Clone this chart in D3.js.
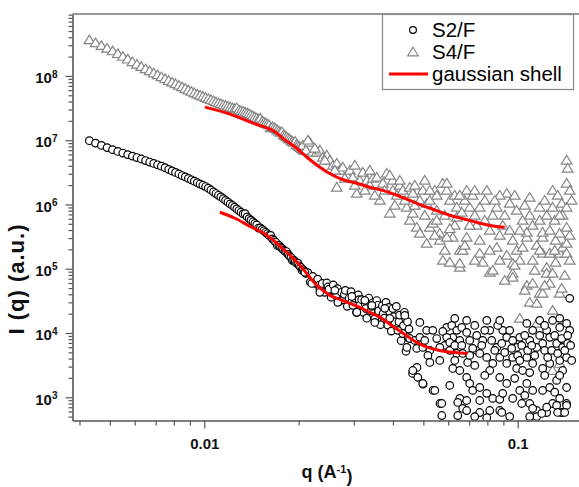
<!DOCTYPE html>
<html><head><meta charset="utf-8">
<script src="https://cdn.jsdelivr.net/npm/d3@7"></script>
<style>body{margin:0;background:#fff}svg{display:block}</style>
</head><body><svg id="chart" width="579" height="487"></svg>
<script>
// ---------- DATA ----------
// q grid of the smooth low-q part (shared by both samples)
const chainQ = [0.0043,0.0045,0.0047,0.0049,0.0051,0.0053,0.0055,0.0057,0.0059,0.0061,0.0063,0.0065,0.0067,0.0069,0.0071,0.0073,0.0075,0.0077,0.0079,0.0081,0.0083,0.0085,0.0087,0.0089,0.0091,0.0093,0.0095,0.0097,0.0099,
0.0101,0.0103,0.0105,0.0107,0.0109,0.0111,0.0113,0.0115,0.0117,0.0119,0.0121,0.0123,0.0125,0.0127,0.0129,0.0131,0.0133,0.0135,0.0137,0.0139,0.0141,0.0143,0.0145,0.0147,0.0149,0.0151,0.0153,0.0155,0.0157,0.0159,0.0161,0.0163,0.0165,0.0167,0.0169,0.0171,0.0173,0.0175,0.0177,0.0179,0.0181,0.0183,0.0185,0.0187,0.0189,0.0191,0.0193,0.0195,0.0197,0.0199,0.0201,0.0203,0.0205,0.0207,0.0209];
const s2ChainI = [9.82e6,9.02e6,8.30e6,7.67e6,7.13e6,6.68e6,6.31e6,5.97e6,5.66e6,5.37e6,5.10e6,4.82e6,4.57e6,4.35e6,4.14e6,3.94e6,3.73e6,3.52e6,3.33e6,3.15e6,2.98e6,2.82e6,2.69e6,2.55e6,2.42e6,2.30e6,2.19e6,2.08e6,1.99e6,
1.90e6,1.79e6,1.68e6,1.57e6,1.48e6,1.39e6,1.31e6,1.23e6,1.16e6,1.09e6,1.02e6,9.64e5,9.06e5,8.53e5,8.04e5,7.57e5,7.14e5,7.2e5,6.40e5,6.03e5,5.69e5,5.38e5,5.08e5,4.81e5,4.3e5,4.32e5,4.09e5,3.89e5,3.69e5,3.50e5,3.29e5,3.3e5,2.92e5,2.75e5,2.59e5,2.3e5,2.32e5,2.19e5,2.07e5,1.96e5,1.86e5,1.85e5,1.67e5,1.58e5,1.50e5,1.35e5,1.36e5,1.29e5,1.22e5,1.22e5,1.11e5,1.06e5,9.5e4,9.64e4,9.20e4];
const s4ChainI = [3.64e8,3.27e8,2.96e8,2.69e8,2.45e8,2.22e8,2.01e8,1.82e8,1.66e8,1.52e8,1.40e8,1.29e8,1.20e8,1.11e8,1.04e8,9.68e7,9.06e7,8.49e7,8.00e7,7.55e7,7.13e7,6.75e7,6.38e7,6.04e7,5.74e7,5.46e7,5.21e7,5.00e7,4.80e7,
4.61e7,4.44e7,4.27e7,4.10e7,3.95e7,3.81e7,3.68e7,3.56e7,3.46e7,3.37e7,3.27e7,3.18e7,3.10e7,3.2e7,2.94e7,2.87e7,2.79e7,2.73e7,2.66e7,2.58e7,2.48e7,2.38e7,2.30e7,2.21e7,2.13e7,2.2e7,1.98e7,1.91e7,1.85e7,1.79e7,1.73e7,1.55e7,1.62e7,1.56e7,1.51e7,1.44e7,1.38e7,1.33e7,1.35e7,1.22e7,1.17e7,1.13e7,1.08e7,1.04e7,1.00e7,9.62e6,9.25e6,9.6e6,8.58e6,8.28e6,7.98e6,7.69e6,7.43e6,7.16e6,6.92e6];

// scattered high-q part, [q, I]
const s2Scatter = [
[0.0211,8.5e4],[0.0214,8.7e4],[0.0218,6.2e4],[0.0222,7.6e4],[0.0226,5.9e4],[0.0230,6.9e4],[0.0232,5.5e4],[0.0234,4.8e4],[0.0238,5.9e4],[0.0242,4.3e4],[0.0246,6.0e4],[0.0248,5.2e4],[0.0250,4.8e4],[0.0254,3.6e4],[0.0258,5.6e4],[0.0262,4.1e4],[0.0264,3.8e4],[0.0266,4.9e4],[0.0270,3.1e4],[0.0274,4.3e4],[0.0278,3.3e4],[0.0280,4.0e4],[0.0282,4.6e4],[0.0286,2.6e4],[0.0290,3.5e4],[0.0294,4.4e4],[0.0296,3.1e4],[0.0298,2.7e4],[0.0302,3.5e4],[0.0306,2.1e4],[0.0310,3.9e4],[0.0312,3.3e4],[0.0314,2.7e4],[0.0318,3.3e4],[0.0322,2.1e4],[0.0326,2.9e4],[0.0328,2.4e4],[0.0330,1.7e4],[0.0335,3.5e4],[0.0340,2.2e4],[0.0342,2.6e4],[0.0345,2.95e4],[0.0350,1.66e4],[0.0355,3.2e4],[0.0358,2.7e4],[0.0360,2.2e4],[0.0365,1.35e4],[0.0370,2.65e4],[0.0372,2.0e4],[0.0375,1.7e4],[0.0380,3.0e4],[0.0385,1.33e4],[0.0388,2.5e4],[0.0390,2.15e4],[0.0395,1.07e4],[0.0400,2.4e4],[0.0402,1.8e4],[0.0405,1.5e4],[0.0410,2.6e4],[0.0415,1.2e4],[0.0418,1.5e4],[0.0420,1.9e4],[0.0425,7.6e3],[0.0430,9.8e3],[0.0432,1.3e4],[0.0435,2.1e4],[0.0440,5.2e3],[0.0443,5.97e3],[0.0445,1.5e4],[0.0448,8.5e3],[0.0450,1.15e4],
[0.02094,8.8e4],[0.02204,5.9e4],[0.02338,4.3e4],[0.0261,4.61e4],[0.02668,3.0e4],[0.02957,3.7e4],[0.03067,2.1e4],[0.03253,3.22e4],[0.0350,1.46e4],[0.03767,2.42e4],[0.04145,1.10e4],[0.04363,1.88e4],[0.04526,8.2e3],[0.03907,1.69e4],[0.03425,2.69e4],
[0.0462,2.35e3],[0.0477,2.91e3],[0.0499,1.6e3],[0.0537,1.28e3],[0.0565,8.0e2],
[0.04695,7.67e3],[0.04872,8.55e3],[0.05122,1.10e4],[0.05359,1.10e4],[0.04765,5.76e3],[0.04980,5.97e3],[0.05243,5.36e3],[0.04627,2.61e3],[0.04800,2.04e3],[0.04980,1.64e3],[0.05439,1.28e3],[0.05725,8.0e2],
[0.05938,1.22e4],[0.06160,1.31e4],[0.06392,1.10e4],[0.06629,1.22e4],[0.06873,1.57e4],[0.06873,1.02e4],[0.06206,8.55e3],[0.06534,7.67e3],[0.05853,6.41e3],[0.06071,5.36e3],[0.06392,4.81e3],[0.06677,4.81e3],[0.06924,3.48e3],[0.06206,2.81e3],[0.06534,2.61e3],[0.06873,2.04e3],[0.07028,1.64e3],[0.07185,1.28e3],[0.06534,9.6e2],[0.06873,8.91e2],[0.06677,6.7e2],[0.06438,8.3e2],
[0.07399,5.36e3],[0.07564,4.81e3],[0.07966,1.57e4],[0.08143,1.10e4],[0.07733,7.67e3],[0.07966,4.17e3],[0.08324,3.36e3],[0.08143,2.61e3],[0.07564,1.42e3],[0.07966,1.15e3],[0.08324,9.6e2],[0.08143,6.22e2],[0.07564,5.79e2],[0.08764,9.3e2],
[0.08571,5.97e3],[0.08958,1.10e4],[0.09226,8.55e3],[0.09638,7.67e3],[0.08764,4.17e3],[0.09226,3.36e3],[0.09638,4.17e3],[0.09923,5.97e3],[0.1015,8.55e3],[0.08764,2.04e3],[0.09226,1.64e3],[0.08958,1.15e3],[0.09638,9.6e2],[0.1015,1.28e3],[0.09428,5.0e2],[0.08764,6.22e2],[0.09923,2.81e3],[0.1037,2.61e3],
[0.1069,1.41e4],[0.1116,1.10e4],[0.1175,1.57e4],[0.1237,1.10e4],[0.1092,7.67e3],[0.1150,5.97e3],[0.1201,6.88e3],[0.1265,8.55e3],[0.1069,4.17e3],[0.1116,3.36e3],[0.1201,2.81e3],[0.1265,3.36e3],[0.1069,1.64e3],[0.1116,1.28e3],[0.1201,1.28e3],[0.1265,1.42e3],[0.1092,8.0e2],[0.1150,6.22e2],[0.1237,5.79e2],[0.1292,8.0e2],[0.1150,5.0e2],
[0.1292,1.57e4],[0.1361,1.22e4],[0.1432,1.41e4],[0.1465,1.10e4],[0.1331,6.88e3],[0.1391,5.97e3],[0.1443,6.88e3],[0.1361,3.74e3],[0.1432,4.17e3],[0.1391,2.61e3],[0.1331,1.83e3],[0.1432,1.42e3],[0.1361,9.6e2],[0.1432,8.0e2],[0.1381,5.79e2],[0.1465,3.46e4],
[0.05725,5.2e2],[0.06438,5.2e2],[0.06873,6.22e2],[0.07292,5.0e2],[0.07966,4.8e2],[0.08893,5.8e2],[0.1030,8.0e2],[0.1092,5.0e2],[0.1116,6.7e2],[0.1193,5.6e2],[0.1237,7.0e2],[0.1331,7.45e2],[0.1341,5.8e2],[0.1432,7.45e2],[0.1412,5.8e2],
[0.05051,7.67e3],[0.05170,4.48e3],[0.05517,8.2e3],[0.05641,5.97e3],[0.05767,1.06e4],[0.05938,8.55e3],[0.06071,7.14e3],[0.06297,6.41e3],[0.06629,6.41e3],[0.07028,7.67e3],[0.07185,5.76e3],[0.07399,9.18e3],[0.07676,6.41e3],[0.07849,1.10e4],[0.08260,7.67e3],[0.08447,5.36e3],[0.08635,1.31e4],[0.08893,6.88e3],[0.09090,4.98e3],[0.09428,1.10e4],[0.09567,5.76e3],[0.09994,4.48e3],[0.1030,6.41e3],[0.1053,9.18e3],[0.1076,5.36e3],[0.1108,6.41e3],[0.1133,4.48e3],[0.1175,9.18e3],[0.1219,5.36e3],[0.1246,4.17e3],[0.1283,5.36e3],[0.1312,9.18e3],[0.1341,4.81e3],[0.1381,8.2e3],[0.1412,5.36e3],[0.1443,9.18e3],[0.1475,6.41e3],[0.1486,3.74e3],[0.1219,2.19e3],[0.1092,2.42e3],[0.09781,1.97e3],[0.1361,2.19e3],[0.07849,2.19e3],[0.07292,3.13e3],[0.05641,3.74e3],[0.05243,3.48e3],[0.06297,3.74e3],
[0.04872,1.46e4],[0.06297,1.69e4],[0.07292,1.31e4],[0.08764,1.57e4],[0.1219,1.31e4],[0.1361,1.69e4],[0.06071,1.53e3],[0.07564,8.91e2],[0.1053,1.07e3],[0.1312,1.2e3],[0.07028,4.48e3],[0.1015,3.74e3]
];
const s4Scatter = [
[0.02064,8.36e6],[0.02110,6.99e6],[0.02172,9.3e6],[0.02220,6.5e6],[0.02286,6.5e6],[0.02338,6.99e6],[0.02390,5.43e6],[0.02461,5.84e6],[0.02516,4.88e6],[0.02572,4.08e6],[0.02648,4.38e6],[0.02648,1.85e6],[0.02707,3.41e6],[0.02767,3.80e6],[0.02849,2.85e6],[0.02914,3.41e6],[0.02979,2.65e6],[0.03067,1.49e6],[0.03135,2.38e6],[0.03206,3.17e6],[0.03301,2.38e6],[0.03374,1.99e6],[0.03449,2.56e6],[0.03552,2.65e6],[0.03632,1.16e6],[0.03713,2.14e6],[0.03822,3.06e6],[0.03907,7.3e5],[0.03993,1.66e6],[0.03993,2.38e6],[0.04114,1.39e6],[0.04205,1.99e6],[0.04299,1.66e6],[0.04427,9.05e5],[0.04526,1.85e6],[0.04526,5.67e5],[0.04627,1.49e6],[0.04627,7.3e5],[0.04765,4.41e5],[0.04872,1.16e6],[0.04872,3.56e5],[0.04980,1.66e6],[0.05122,1.04e6],[0.05122,2.48e5],[0.05243,1.16e6],[0.05243,4.41e5],[0.05359,5.09e5],[0.05517,8.12e5],[0.05517,5.67e5],[0.05641,3.56e5],[0.05641,2.77e5],[0.05767,2.14e6],[0.05767,1.35e5],[0.05938,1.66e6],[0.05938,2.14e6],
[0.02142,1.0e7],[0.02253,7.5e6],[0.02425,4.88e6],[0.0261,3.41e6],[0.02808,2.56e6],[0.03023,1.99e6],[0.03253,1.66e6],[0.0350,1.39e6],[0.03767,1.66e6],[0.04054,9.72e5],[0.04363,1.16e6],[0.04695,9.72e5],[0.03023,4.08e6],[0.03374,3.41e6],[0.03907,2.85e6],[0.04205,2.38e6],[0.04695,1.99e6],[0.05051,2.38e6],[0.05439,1.66e6],
[0.06071,1.26e5],[0.06206,3.08e5],[0.06392,9.05e5],[0.06392,6.32e5],[0.06534,1.05e5],[0.06534,1.93e5],[0.06677,1.93e5],[0.06873,1.66e6],[0.06873,3.08e5],[0.07028,9.05e5],[0.07564,9.05e5],[0.07564,2.77e5],[0.07564,1.74e5],[0.07966,1.66e6],[0.08143,8.8e4],[0.08324,9.44e4],[0.08571,9.05e5],[0.08571,2.15e5],[0.09226,1.49e6],[0.09428,1.04e6],[0.09638,2.77e5],[0.09638,8.5e4],[0.09638,1.21e5],[0.09638,7.35e4],[0.09923,8.12e5],[0.1015,1.35e5],[0.1015,1.69e4],[0.1069,3.08e5],[0.1069,3.69e5],[0.1069,5.51e4],[0.1092,1.29e6],[0.1092,3.0e4],[0.1116,1.35e5],[0.1116,5.93e4],[0.1150,2.89e4],[0.1150,1.41e4],[0.1175,9.05e5],[0.1175,4.14e4],[0.1201,3.08e5],[0.1201,1.74e5],[0.1201,4.14e4],[0.1237,1.05e5],[0.1237,8.5e4],[0.1265,1.74e5],[0.1265,5.93e4],[0.1292,1.66e6],[0.1292,9.05e5],[0.1292,8.5e4],[0.1292,2.25e4],[0.1321,2.77e5],[0.1321,1.26e5],[0.1361,3.56e5],[0.1361,1.74e5],[0.1361,4.14e4],[0.1361,3.36e3],[0.1381,1.04e6],[0.1381,4.94e4],[0.1391,2.15e5],[0.1432,4.88e6],[0.1443,3.66e6],[0.1432,2.14e6],[0.1465,1.66e6],[0.1432,9.05e5],[0.1432,4.41e5],[0.1432,2.48e5],[0.1432,1.74e5],[0.05938,3.08e5],[0.06534,1.21e5],[0.1201,3.69e5],[0.1292,2.61e3],
[0.05517,1.39e6],[0.06071,1.16e6],[0.06297,1.39e6],[0.06629,7.56e5],[0.06776,1.16e6],[0.07185,1.39e6],[0.07292,6.79e5],[0.07399,4.74e5],[0.07849,1.16e6],[0.07849,5.67e5],[0.08143,3.96e5],[0.08324,6.79e5],[0.08764,1.39e6],[0.08958,4.74e5],[0.09090,6.79e5],[0.09428,3.96e5],[0.09781,1.39e6],[0.09923,1.93e5],[0.1037,5.67e5],[0.1053,9.72e5],[0.1092,6.79e5],[0.1116,4.74e5],[0.1150,2.31e5],[0.1175,5.67e5],[0.1219,1.16e6],[0.1237,6.79e5],[0.1265,3.96e5],[0.1312,5.67e5],[0.1341,1.39e6],[0.1391,6.79e5],[0.1465,3.31e5],[0.1486,1.16e6],[0.07028,4.74e5],[0.07733,1.26e5],[0.08764,1.35e5],[0.1037,2.15e5],[0.09226,1.62e5],[0.05853,6.79e5],[0.06297,4.74e5],
[0.05051,6.79e5],[0.05439,3.31e5],[0.05853,1.93e5],[0.06071,4.2e5],[0.06776,2.31e5],[0.07292,1.35e5],[0.07292,1.66e6],[0.08143,1.93e5],[0.08764,3.31e5],[0.0909,6.59e4],[0.09781,1.13e5],[0.1053,4.61e4],[0.1133,9.44e4],[0.1219,5.51e4],[0.1312,1.93e5],[0.1412,7.89e4],[0.1465,1.35e5],[0.1361,6.79e5],[0.1175,1.93e5],[0.1015,3.96e5],[0.08447,1.16e6],[0.06534,1.39e6],[0.05243,1.66e6]
];

// gaussian shell fits
const fitS2Q = [0.01122,0.01253,0.01398,0.01550,0.01705,0.01862,0.02019,0.02172,0.02287,0.02390,0.02516,0.02707,0.02914,0.03135,0.03374,0.03686,0.03993,0.04363,0.04765,0.05170,0.05641,0.06297,0.06924];
const fitS2I = [7.57e5,6.10e5,4.57e5,3.56e5,2.49e5,1.68e5,1.13e5,7.35e4,5.51e4,4.61e4,3.85e4,3.34e4,2.89e4,2.51e4,2.09e4,1.69e4,1.27e4,9.51e3,7.14e3,5.97e3,5.36e3,4.99e3,4.81e3];
const fitS4Q = [0.01005,0.01208,0.01430,0.01705,0.01782,0.01974,0.02126,0.02338,0.02572,0.02808,0.03067,0.03374,0.03713,0.04205,0.04765,0.05359,0.06071,0.06776,0.07564,0.08447,0.09090];
const fitS4I = [3.27e7,2.54e7,1.84e7,1.29e7,1.07e7,7.50e6,5.43e6,3.80e6,2.85e6,2.38e6,2.14e6,1.85e6,1.66e6,1.34e6,1.04e6,8.42e5,6.79e5,5.89e5,5.10e5,4.57e5,4.42e5];

// axes
const xMajorTicks = [0.01, 0.1];
const xTickLabels = ["0.01", "0.1"];
const xMinorTicks = [0.004,0.005,0.006,0.007,0.008,0.009,0.02,0.03,0.04,0.05,0.06,0.07,0.08,0.09,0.2];
const yMajorTicks = [1e3,1e4,1e5,1e6,1e7,1e8];
const yTickExponents = ["3","4","5","6","7","8"];
const legendLabels = ["S2/F","S4/F","gaussian shell"];

// ---------- DRAW ----------
const FONT = "'Liberation Sans', Arial, Helvetica, sans-serif";
const svg = d3.select("#chart");
svg.append("rect").attr("width",579).attr("height",487).attr("fill","#fff");

const L = 72.5, R = 580, T = 14, B = 420.5;
const x = d3.scaleLog().domain([0.0038, 0.158]).range([L, R]);
const y = d3.scaleLog().domain([435, 9.2e8]).range([B, T]);

svg.append("clipPath").attr("id","clip").append("rect")
  .attr("x",L).attr("y",T).attr("width",R-L).attr("height",B-T);
const plot = svg.append("g").attr("clip-path","url(#clip)");

const s2 = chainQ.map((q,i)=>[q,s2ChainI[i]]).concat(s2Scatter);
const s4 = chainQ.map((q,i)=>[q,s4ChainI[i]]).concat(s4Scatter);

const tri = "M0,-4.8L5.3,3.8L-5.3,3.8Z";
plot.append("g").selectAll("path").data(s4).join("path")
  .attr("d",tri)
  .attr("transform",d=>`translate(${x(d[0])},${y(d[1])})`)
  .attr("fill","#fff").attr("stroke","#858585").attr("stroke-width",1.2);

plot.append("g").selectAll("circle").data(s2).join("circle")
  .attr("cx",d=>x(d[0])).attr("cy",d=>y(d[1])).attr("r",3.8)
  .attr("fill","#fff").attr("stroke","#000").attr("stroke-width",1.2);

const line = d3.line().x(d=>x(d[0])).y(d=>y(d[1])).curve(d3.curveMonotoneX);
plot.append("path").datum(fitS4Q.map((q,i)=>[q,fitS4I[i]]))
  .attr("d",line).attr("fill","none").attr("stroke","#ff0000").attr("stroke-width",3);
plot.append("path").datum(fitS2Q.map((q,i)=>[q,fitS2I[i]]))
  .attr("d",line).attr("fill","none").attr("stroke","#ff0000").attr("stroke-width",3);

const axisColor = "#555";
// X axis
const gxMinor = svg.append("g").attr("transform",`translate(0,${B})`)
  .call(d3.axisBottom(x).tickValues(xMinorTicks).tickSize(5).tickFormat("").tickSizeOuter(0));
gxMinor.select(".domain").remove();
const gx = svg.append("g").attr("transform",`translate(0,${B})`)
  .call(d3.axisBottom(x).tickValues(xMajorTicks).tickSize(8).tickPadding(10).tickSizeOuter(0)
    .tickFormat((d,i)=>xTickLabels[i]));
// Y axis
const yMinorTicks = [];
for (let e = 2; e <= 8; e++) for (let k = 2; k <= 9; k++) {
  const v = k*Math.pow(10,e); if (v>=435 && v<=9.2e8) yMinorTicks.push(v);
}
const gyMinor = svg.append("g").attr("transform",`translate(${L},0)`)
  .call(d3.axisLeft(y).tickValues(yMinorTicks).tickSize(4).tickFormat("").tickSizeOuter(0));
gyMinor.select(".domain").remove();
const gy = svg.append("g").attr("transform",`translate(${L},0)`)
  .call(d3.axisLeft(y).tickValues(yMajorTicks).tickSize(7).tickPadding(4).tickSizeOuter(0).tickFormat(""));
gy.selectAll(".tick").each(function(d,i){
  const t = d3.select(this).select("text");
  t.attr("dy","0.45em").attr("x",-15);
  t.append("tspan").text("10");
  t.append("tspan").attr("dy","-0.55em").attr("font-size","10px").text(yTickExponents[i]);
});
[gx,gxMinor,gy,gyMinor].forEach(g=>{
  g.selectAll("line").attr("stroke",axisColor).attr("stroke-width",1.2);
  g.select(".domain").attr("stroke",axisColor).attr("stroke-width",1.6);
  g.selectAll("text").attr("font-family",FONT).attr("font-size","15px")
    .attr("font-weight","bold").attr("fill","#111");
});
// top frame line
svg.append("line").attr("x1",L).attr("x2",R).attr("y1",T).attr("y2",T)
  .attr("stroke","#777").attr("stroke-width",1.6);

// axis titles
const xt = svg.append("text").attr("x",327).attr("y",478).attr("text-anchor","middle")
  .attr("font-family",FONT).attr("font-size","18px").attr("font-weight","bold").attr("fill","#111");
xt.append("tspan").text("q (A");
xt.append("tspan").attr("dy","-0.5em").attr("font-size","11px").text("-1");
xt.append("tspan").attr("dy","0.5em").text(")");
svg.append("text").attr("transform","translate(24,279) rotate(-90)").attr("text-anchor","middle")
  .attr("font-family",FONT).attr("font-size","22px").attr("font-weight","bold").attr("fill","#111")
  .attr("letter-spacing","1px")
  .text("I (q) (a.u.)");

// legend
const lg = svg.append("g");
lg.append("rect").attr("x",382.5).attr("y",14.5).attr("width",191).attr("height",75)
  .attr("fill","#fff").attr("stroke","#888").attr("stroke-width",1.2);
lg.append("circle").attr("cx",413).attr("cy",30).attr("r",3.4)
  .attr("fill","#fff").attr("stroke","#000").attr("stroke-width",1.2);
lg.append("path").attr("d",tri).attr("transform","translate(413,52)")
  .attr("fill","#fff").attr("stroke","#858585").attr("stroke-width",1.2);
lg.append("line").attr("x1",389).attr("x2",428).attr("y1",74).attr("y2",74)
  .attr("stroke","#ff0000").attr("stroke-width",3);
[37,59,81].forEach((yy,i)=>{
  lg.append("text").attr("x",432).attr("y",yy).attr("font-family",FONT)
    .attr("font-size","20.5px").attr("fill","#000").text(legendLabels[i]);
});
</script></body></html>
